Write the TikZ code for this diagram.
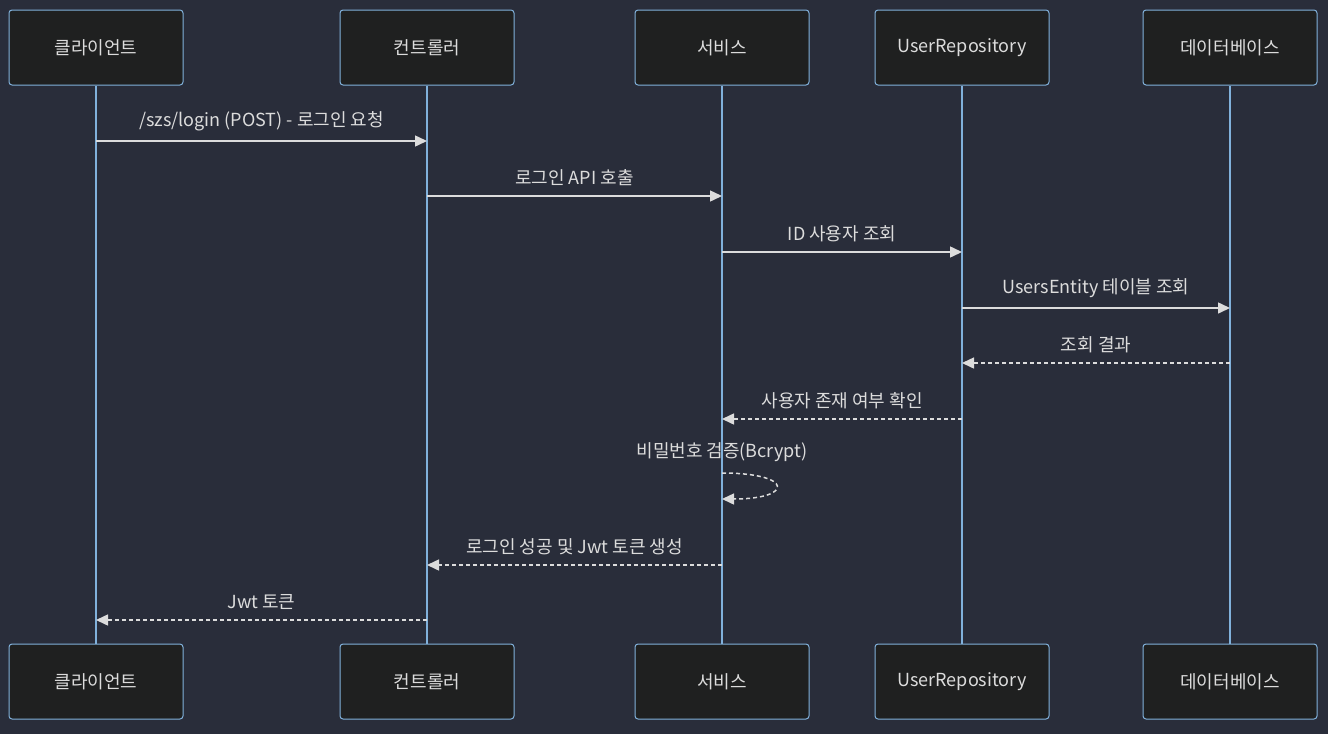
\documentclass[tikz,border=0pt]{standalone}
\usepackage{fontspec}
\setmainfont{Noto Sans CJK KR}
\usetikzlibrary{arrows.meta}
\definecolor{bg}{HTML}{292D3A}
\definecolor{boxfill}{HTML}{1F2020}
\definecolor{lifeline}{HTML}{81B1DB}
\definecolor{msg}{HTML}{DCDCDC}
\begin{document}
\begin{tikzpicture}[x=1pt,y=-1pt,
    actor/.style={draw=lifeline,fill=boxfill,rounded corners=3pt,line width=1pt,
      minimum width=174pt,minimum height=75pt,text=msg,
      font=\fontsize{18}{22}\selectfont},
    life/.style={draw=lifeline,line width=2pt},
    call/.style={draw=msg,line width=1.5pt,-{Triangle[length=12pt,width=11pt]}},
    reply/.style={call,dash pattern=on 4pt off 3pt},
    lbl/.style={text=msg,font=\fontsize{18}{22}\selectfont,above=6pt,midway}]
  \fill[bg] (0,0) rectangle (1328,734);
  \useasboundingbox (0,0) rectangle (1328,734);
  % actors
  \node[actor] (cl) at (96,47.5) {클라이언트};
  \node[actor] (ct) at (427,47.5) {컨트롤러};
  \node[actor] (sv) at (722,47.5) {서비스};
  \node[actor] (ur) at (962,47.5) {UserRepository};
  \node[actor] (db) at (1230,47.5) {데이터베이스};
  \node[actor] (clb) at (96,681.5) {클라이언트};
  \node[actor] (ctb) at (427,681.5) {컨트롤러};
  \node[actor] (svb) at (722,681.5) {서비스};
  \node[actor] (urb) at (962,681.5) {UserRepository};
  \node[actor] (dbb) at (1230,681.5) {데이터베이스};
  % lifelines
  \foreach \a in {cl,ct,sv,ur,db}
    \draw[life] (\a.south) -- (\a b.north);
  % message rows
  \coordinate (r1) at (0,141);
  \coordinate (r2) at (0,196);
  \coordinate (r3) at (0,252);
  \coordinate (r4) at (0,308);
  \coordinate (r5) at (0,363);
  \coordinate (r6) at (0,419);
  \coordinate (r7) at (0,473);
  \coordinate (r7b) at (0,499);
  \coordinate (r8) at (0,565);
  \coordinate (r9) at (0,620);
  % messages
  \draw[call] (cl |- r1) -- node[lbl] {/szs/login (POST) - 로그인 요청} (ct |- r1);
  \draw[call] (ct |- r2) -- node[lbl] {로그인 API 호출} (sv |- r2);
  \draw[call] (sv |- r3) -- node[lbl] {ID 사용자 조회} (ur |- r3);
  \draw[call] (ur |- r4) -- node[lbl] {UsersEntity 테이블 조회} (db |- r4);
  \draw[reply] (db |- r5) -- node[lbl] {조회 결과} (ur |- r5);
  \draw[reply] (ur |- r6) -- node[lbl] {사용자 존재 여부 확인} (sv |- r6);
  \draw[reply] (sv |- r7) .. controls +(72,0) and +(72,0) .. (sv |- r7b);
  \node[text=msg,font=\fontsize{18}{22}\selectfont] (selfl) at (722,452) {비밀번호 검증(Bcrypt)};
  \draw[reply] (sv |- r8) -- node[lbl] {로그인 성공 및 Jwt 토큰 생성} (ct |- r8);
  \draw[reply] (ct |- r9) -- node[lbl] {Jwt 토큰} (cl |- r9);
\end{tikzpicture}
\end{document}
